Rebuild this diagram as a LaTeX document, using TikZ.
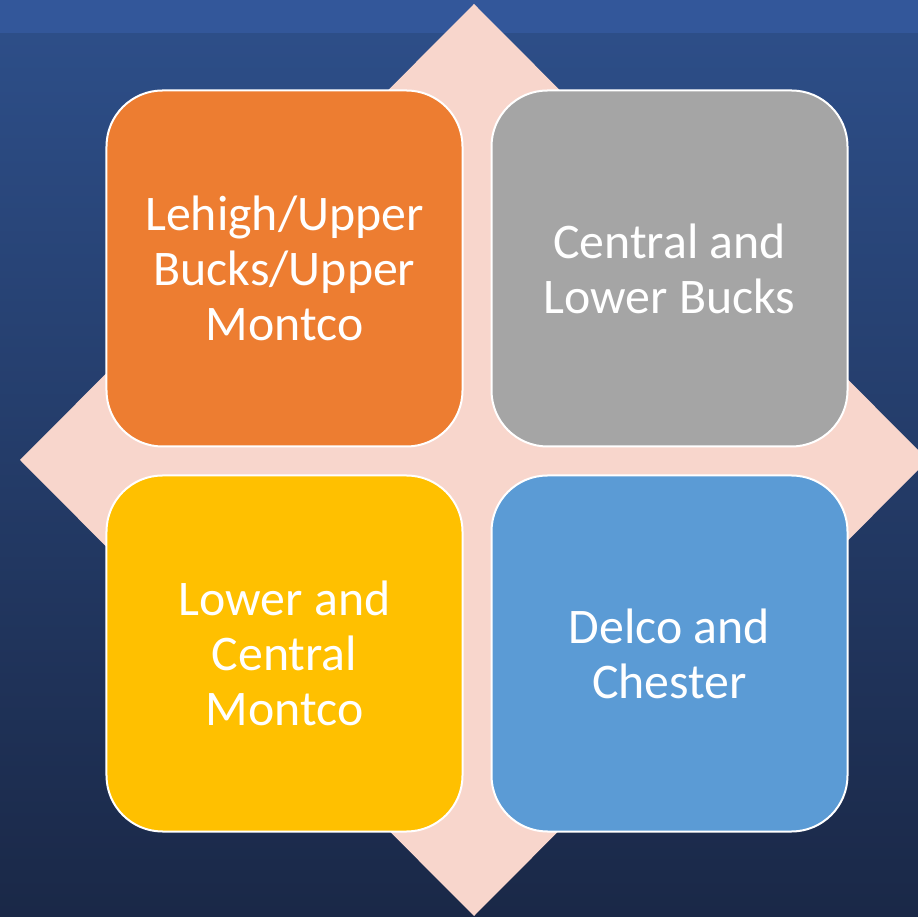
\documentclass[tikz,border=0pt]{standalone}
\usepackage{fontspec}
\setmainfont{Carlito}
\definecolor{bandblue}{HTML}{33579A}
\definecolor{bgtop}{HTML}{2D4E88}
\definecolor{bgbottom}{HTML}{1A2847}
\definecolor{peach}{HTML}{F8D6CC}
\definecolor{tileorange}{HTML}{ED7D31}
\definecolor{tilegray}{HTML}{A5A5A5}
\definecolor{tileyellow}{HTML}{FFC000}
\definecolor{tileblue}{HTML}{5B9BD5}

\begin{document}
\begin{tikzpicture}[x=1bp,y=1bp]
\tikzstyle{tile}=[rectangle,rounded corners=56bp,draw=white,line width=2bp,minimum width=356bp,minimum height=356bp,inner sep=0pt,text=white,align=center,font=\fontsize{50}{55}\selectfont]
\useasboundingbox (0,0) rectangle (918,917);
\clip (0,0) rectangle (918,917);
% background
\shade[top color=bgtop,bottom color=bgbottom] (0,0) rectangle (918,884);
\fill[bandblue] (0,884) rectangle (918,917);
% diamond behind the tiles
\fill[peach] (474,913) -- (20,457) -- (474,1) -- (928,457) -- cycle;
% tiles
\node[tile, fill=tileorange] (lehigh) at (284.5,648.5) {Lehigh/Upper\\Bucks/Upper\\Montco};
\node[tile, fill=tilegray] (central) at (669.5,648.5) {Central and\\Lower Bucks};
\node[tile, fill=tileyellow] (lower) at (284.5,263.5) {Lower and\\Central\\Montco};
\node[tile, fill=tileblue] (delco) at (669.5,263.5) {Delco and\\Chester};
\end{tikzpicture}
\end{document}
